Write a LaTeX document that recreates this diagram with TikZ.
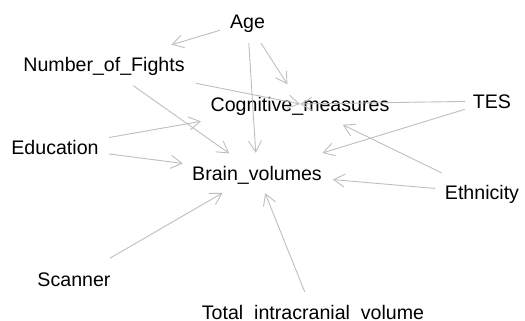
\documentclass[tikz,border=0pt]{standalone}
\usepackage{fontspec}
\setmainfont{Liberation Sans}
\usetikzlibrary{arrows.meta}
\definecolor{edgegray}{RGB}{190,190,190}
\tikzset{
  var/.style={inner sep=0pt, text height=14pt, text depth=0pt, font=\fontsize{19.6pt}{22pt}\selectfont, text=black},
  arr/.style={draw=edgegray, line width=0.9pt, -{Straight Barb[length=11pt,width=13pt]}},
}
\begin{document}
\begin{tikzpicture}[x=1pt,y=-1pt]
\useasboundingbox (0,0) rectangle (525,321);
\node[var] (age)   at (247.5,22)  {Age};
\node[var] (nof)   at (104,65)    {Number\_of\_Fights};
\node[var] (cog)   at (300,104)   {Cognitive\_measures};
\node[var] (tes)   at (492,101)   {TES};
\node[var] (edu)   at (55,147)    {Education};
\node[var] (brain) at (257,173)   {Brain\_volumes};
\node[var] (eth)   at (482,192.5) {Ethnicity};
\node[var] (scan)  at (74,279)    {Scanner};
\node[var] (tiv)   at (313,312.5) {Total\_intracranial\_volume};
\draw[arr, shorten <=28.5pt, shorten >=70.4pt] (age.center) -- (nof.center);
\draw[arr, shorten <=25.2pt, shorten >=23.4pt] (age.center) -- (cog.center);
\draw[arr, shorten <=21.4pt, shorten >=20.3pt] (age.center) -- (brain.center);
\draw[arr, shorten <=94pt, shorten >=0pt] (nof.center) -- (cog.center);
\draw[arr, shorten <=36pt, shorten >=34pt] (nof.center) -- (brain.center);
\draw[arr, shorten <=54.9pt, shorten >=100.6pt] (edu.center) -- (cog.center);
\draw[arr, shorten <=54.5pt, shorten >=74.9pt] (edu.center) -- (brain.center);
\draw[arr, shorten <=27pt, shorten >=0pt] (tes.center) -- (cog.center);
\draw[arr, shorten <=28.5pt, shorten >=68.4pt] (tes.center) -- (brain.center);
\draw[arr, shorten <=44.9pt, shorten >=47.6pt] (eth.center) -- (cog.center);
\draw[arr, shorten <=47.1pt, shorten >=76.1pt] (eth.center) -- (brain.center);
\draw[arr, shorten <=41.6pt, shorten >=39.9pt] (scan.center) -- (brain.center);
\draw[arr, shorten <=22.3pt, shorten >=21.8pt] (tiv.center) -- (brain.center);
\end{tikzpicture}
\end{document}
